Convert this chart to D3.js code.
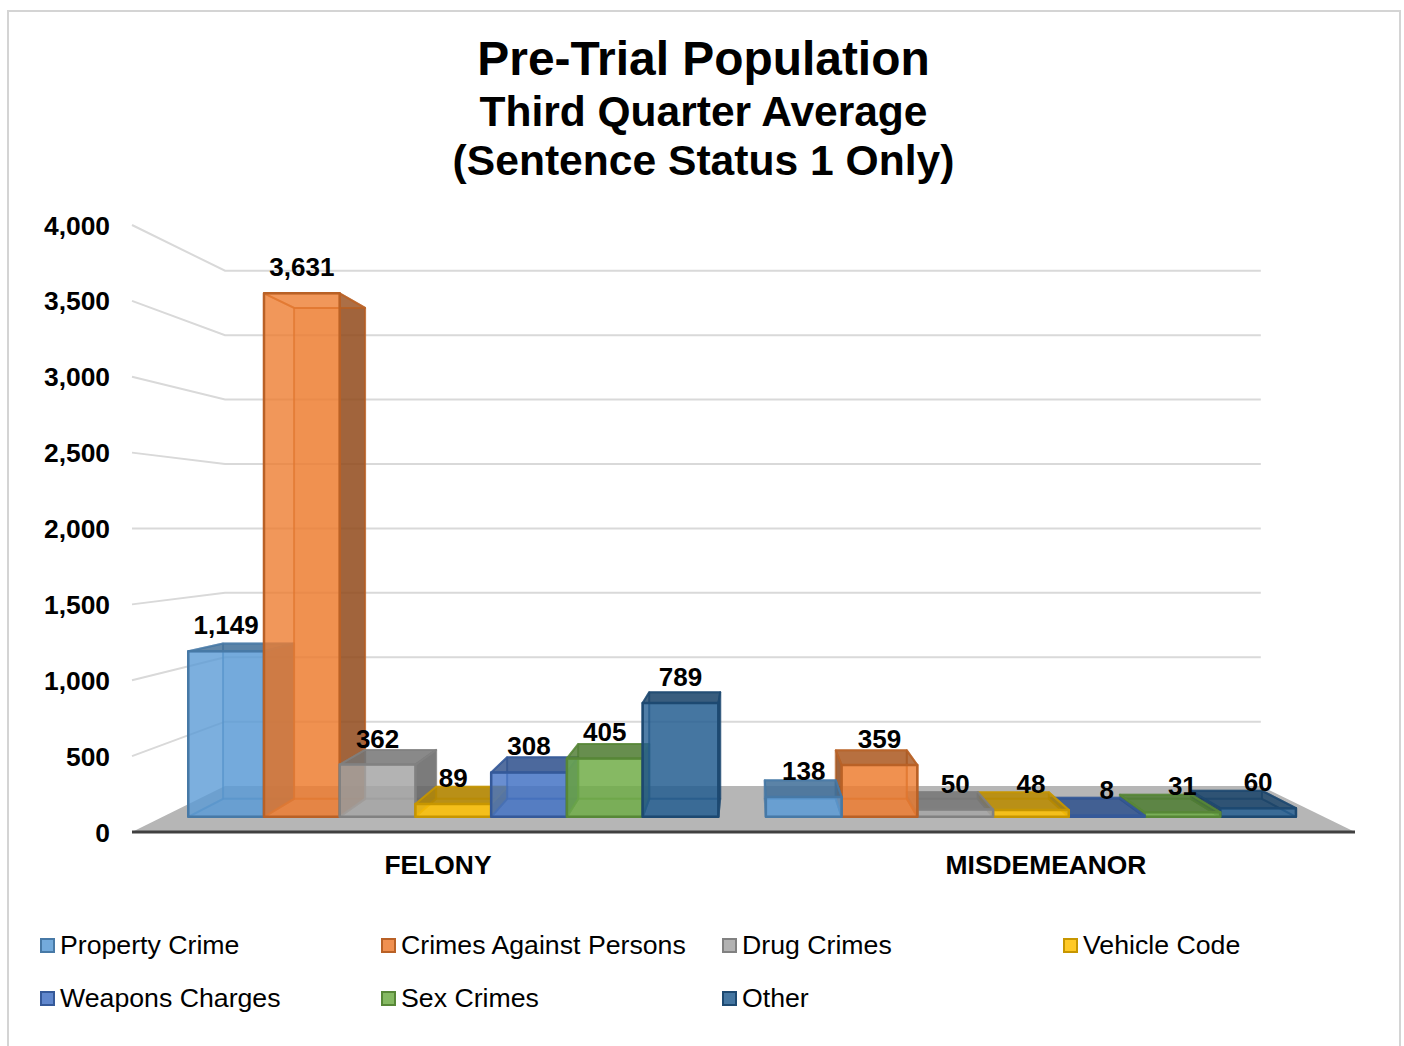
<!DOCTYPE html>
<html>
<head>
<meta charset="utf-8">
<script src="https://cdn.jsdelivr.net/npm/d3@7"></script>
<style>
  html, body { margin: 0; padding: 0; background: #fff; }
  svg { display: block; }
  text { font-family: "Liberation Sans", Arial, sans-serif; fill: #000; }
</style>
</head>
<body>
<div id="my_dataviz"></div>
<script>
// chart data
var categories = ["FELONY", "MISDEMEANOR"];
var seriesNames = ["Property Crime", "Crimes Against Persons", "Drug Crimes", "Vehicle Code",
  "Weapons Charges", "Sex Crimes", "Other"];
var felonyValues = [1149, 3631, 362, 89, 308, 405, 789];
var misdemeanorValues = [138, 359, 50, 48, 8, 31, 60];
var yTicks = [0, 500, 1000, 1500, 2000, 2500, 3000, 3500, 4000];
var seriesColors = ["#5b9bd5", "#ed7d31", "#a5a5a5", "#ffc000", "#4472c4", "#70ad47", "#255e91"];
var titleLines = ["Pre-Trial Population", "Third Quarter Average", "(Sentence Status 1 Only)"];

var width = 1404, height = 1046;

var svg = d3.select("#my_dataviz")
  .append("svg")
    .attr("width", width)
    .attr("height", height);

// frame, open at the bottom like the cropped original
svg.append("path")
  .attr("d", "M8,1046V11H1400V1046")
  .attr("fill", "none")
  .attr("stroke", "#d4d4d4")
  .attr("stroke-width", 2);

// titles
var titleSizes = [47.9, 42.5, 42.6], titleY = [75, 126, 175];
svg.selectAll(".title")
  .data(titleLines)
  .enter()
  .append("text")
    .attr("class", "title")
    .attr("x", 703.5)
    .attr("y", function(d, i) { return titleY[i]; })
    .attr("text-anchor", "middle")
    .style("font-size", function(d, i) { return titleSizes[i] + "px"; })
    .style("font-weight", "bold")
    .text(function(d) { return d; });

// scales live in the plane of the axis, everything else is projected back from it
var y = d3.scaleLinear().domain([0, 4000]).range([832, 225]);
var x0 = d3.scaleBand().domain(categories).range([134, 1350]);
var x1 = d3.scaleBand().domain(seriesNames).range([24.8, 582.8]);

// perspective: vanishing point and depth factors
var vp = [748, 528];
var depthBarFront = 0.95, depthBarBack = 0.891, depthWall = 0.849;
function project(px, py, s) {
  return [vp[0] + s * (px - vp[0]), vp[1] + s * (py - vp[1])];
}
var line = d3.line();

// floor
var floorLeft = 132, floorRight = 1355, wallRight = 1352;
svg.append("path")
  .attr("d", line([
    project(floorLeft, y(0), 1), project(floorLeft, y(0), depthWall),
    project(wallRight, y(0), depthWall), project(floorRight, y(0), 1)
  ]) + "Z")
  .attr("fill", "#b6b6b6");

// gridlines: side wall then back wall
var grid = svg.append("g")
  .attr("fill", "none")
  .attr("stroke", "#d9d9d9")
  .attr("stroke-width", 2);
grid.selectAll("path")
  .data(yTicks.slice(1))
  .enter()
  .append("path")
    .attr("d", function(d) {
      return line([
        project(floorLeft, y(d), 1),
        project(floorLeft, y(d), depthWall),
        project(wallRight, y(d), depthWall)
      ]);
    });

// flatten values into bars, far from the vanishing point first so overlaps stack right
var bars = [];
[felonyValues, misdemeanorValues].forEach(function(vals, c) {
  vals.forEach(function(v, i) {
    var left = x0(categories[c]) + x1(seriesNames[i]);
    bars.push({ value: v, color: seriesColors[i], left: left, right: left + x1.bandwidth() });
  });
});
bars.sort(function(a, b) {
  return Math.abs(b.left + x1.bandwidth() / 2 - vp[0]) - Math.abs(a.left + x1.bandwidth() / 2 - vp[0]);
});

function drawBar(d) {
  var g = d3.select(this);
  var top = y(d.value), base = y(0);
  var f = function(px, py) { return project(px, py, depthBarFront); };
  var b = function(px, py) { return project(px, py, depthBarBack); };
  var topFill = d3.color(d.color).darker(1).formatHex();
  var sideFill = d3.color(d.color).darker(1.5).formatHex();
  var edge = d3.color(d.color).darker(0.7).formatHex();

  // only the side facing the vanishing point is really seen from outside
  var rightSeen = (d.left + d.right) / 2 < vp[0];
  // a bar taller than the eye line shows no top, we look through it
  var topSeen = top > vp[1];

  var faces = [
    { pts: [b(d.left, top), b(d.right, top), b(d.right, base), b(d.left, base)], fill: d.color, o: 0.35, line: 0.45, w: 2 },
    { pts: [f(d.left, base), f(d.right, base), b(d.right, base), b(d.left, base)], fill: d.color, o: 0.35, line: 0.45, w: 2 },
    { pts: [f(d.left, top), b(d.left, top), b(d.left, base), f(d.left, base)],
      fill: rightSeen ? d.color : sideFill, o: rightSeen ? 0.15 : 0.8, line: 0.45, w: 2 },
    { pts: [f(d.right, top), b(d.right, top), b(d.right, base), f(d.right, base)],
      fill: rightSeen ? sideFill : d.color, o: rightSeen ? 0.8 : 0.15, line: 0.7, w: 2 },
    { pts: [f(d.left, top), f(d.right, top), b(d.right, top), b(d.left, top)],
      fill: topSeen ? topFill : d.color, o: topSeen ? 0.8 : 0.15, line: 0.8, w: 2 },
    { pts: [f(d.left, top), f(d.right, top), f(d.right, base), f(d.left, base)], fill: d.color, o: 0.77, line: 1, w: 2.5 }
  ];
  g.selectAll("path")
    .data(faces)
    .enter()
    .append("path")
      .attr("d", function(p) { return line(p.pts) + "Z"; })
      .attr("fill", function(p) { return p.fill; })
      .attr("fill-opacity", function(p) { return p.o; })
      .attr("stroke", edge)
      .attr("stroke-opacity", function(p) { return p.line; })
      .attr("stroke-width", function(p) { return p.w; })
      .attr("stroke-linejoin", "round");
}

svg.append("g")
  .selectAll("g")
  .data(bars)
  .enter()
  .append("g")
    .each(drawBar);

// front edge of the floor
svg.append("line")
  .attr("x1", floorLeft)
  .attr("x2", floorRight)
  .attr("y1", y(0))
  .attr("y2", y(0))
  .attr("stroke", "#404040")
  .attr("stroke-width", 3);

// value labels
svg.append("g")
  .selectAll("text")
  .data(bars)
  .enter()
  .append("text")
    .attr("x", function(d) { return project((d.left + d.right) / 2, 0, depthBarFront)[0]; })
    .attr("y", function(d) { return project(0, y(d.value), depthBarFront)[1] - 17; })
    .attr("text-anchor", "middle")
    .style("font-size", "26px")
    .style("font-weight", "bold")
    .text(function(d) { return d3.format(",")(d.value); });

// Y axis
var yAxis = svg.append("g")
  .attr("transform", "translate(110,0.6)")
  .call(d3.axisLeft(y).tickValues(yTicks).tickFormat(d3.format(",")).tickSize(0).tickPadding(0));
yAxis.select(".domain").remove();
yAxis.selectAll("text")
  .style("font-size", "26.4px")
  .style("font-weight", "bold")
  .style("font-family", "'Liberation Sans', Arial, sans-serif");

// X axis
var xAxis = svg.append("g")
  .attr("transform", "translate(0,855)")
  .call(d3.axisBottom(x0).tickSize(0).tickPadding(0));
xAxis.select(".domain").remove();
xAxis.selectAll("text")
  .style("font-size", "26.4px")
  .style("font-weight", "bold")
  .style("font-family", "'Liberation Sans', Arial, sans-serif");

// legend, 4 per row
var legendCol = 341, legendRow = 53;
var legend = svg.append("g")
  .selectAll("g")
  .data(seriesNames)
  .enter()
  .append("g")
    .attr("transform", function(d, i) {
      return "translate(" + (40 + (i % 4) * legendCol) + "," + (938 + Math.floor(i / 4) * legendRow) + ")";
    });
legend.append("rect")
  .attr("x", 1)
  .attr("y", 1)
  .attr("width", 13)
  .attr("height", 13)
  .attr("fill", function(d, i) { return seriesColors[i]; })
  .attr("fill-opacity", 0.85)
  .attr("stroke", function(d, i) { return d3.color(seriesColors[i]).darker(0.7).formatHex(); })
  .attr("stroke-width", 2);
legend.append("text")
  .attr("x", 20)
  .attr("y", 16)
  .style("font-size", "26.7px")
  .text(function(d) { return d; });
</script>
</body>
</html>
